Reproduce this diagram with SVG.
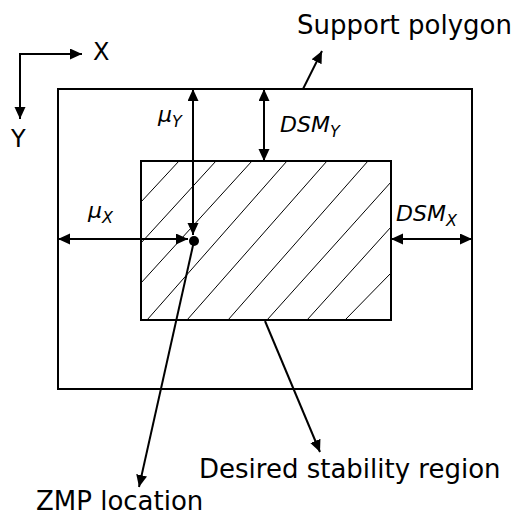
<svg xmlns="http://www.w3.org/2000/svg" width="518" height="516" viewBox="0 0 518 516">
<style>
.box{fill:none;stroke:#000;stroke-width:2}
.hatch{stroke:#000;stroke-width:1;fill:none}
.conn{stroke:#000;stroke-width:2;fill:none}
.lbl{font-family:"DejaVu Sans",sans-serif;font-size:26px;fill:#000}
.ax{font-family:"DejaVu Sans",sans-serif;font-size:24px;fill:#000}
.math{font-family:"DejaVu Sans",sans-serif;font-style:italic;font-size:22px;fill:#000}
.sub{font-size:16px}
</style>
<defs>
<marker id="ah" markerUnits="userSpaceOnUse" markerWidth="14" markerHeight="12" refX="12" refY="5.5" orient="auto-start-reverse" viewBox="0 0 14 12">
<path d="M0,0 L12,5.5 L0,11 z" fill="#000"/>
</marker>
</defs>
<rect width="518" height="516" fill="#fff"/>
<g id="support-polygon">
<rect class="box" x="58" y="89" width="414" height="300"/>
</g>
<g id="desired-stability-region">
<g class="hatch">
<line x1="141" y1="202" x2="179" y2="161"/>
<line x1="141" y1="243" x2="216" y2="161"/>
<line x1="141" y1="283" x2="252" y2="161"/>
<line x1="147" y1="320" x2="287" y2="161"/>
<line x1="187" y1="320" x2="327" y2="161"/>
<line x1="228" y1="320" x2="368" y2="161"/>
<line x1="267" y1="320" x2="391" y2="182"/>
<line x1="307" y1="320" x2="391" y2="227"/>
<line x1="345" y1="320" x2="391" y2="273"/>
</g>
<rect class="box" x="141" y="161" width="250" height="159"/>
</g>
<g id="zmp">
<circle cx="194" cy="241" r="5" fill="#000"/>
</g>
<g id="axes">
<text class="ax" x="93" y="60">X</text>
<text class="ax" x="11" y="147">Y</text>
</g>
<g id="labels">
<text class="lbl" x="297" y="34">Support polygon</text>
<text class="lbl" x="199" y="478">Desired stability region</text>
<text class="lbl" x="36" y="510">ZMP location</text>
<text class="math" x="158" y="122">μ<tspan class="sub" dy="5">Y</tspan></text>
<text class="math" x="88" y="218">μ<tspan class="sub" dy="5">X</tspan></text>
<text class="math" x="280" y="132">DSM<tspan class="sub" dy="5">Y</tspan></text>
<text class="math" x="396" y="221">DSM<tspan class="sub" dy="5">X</tspan></text>
</g>
<g id="connectors">
<polyline class="conn" points="82,54 20,54 20,119" marker-start="url(#ah)" marker-end="url(#ah)"/>
<line class="conn" x1="193" y1="89" x2="193" y2="235" marker-start="url(#ah)" marker-end="url(#ah)"/>
<line class="conn" x1="58" y1="239" x2="188" y2="239" marker-start="url(#ah)" marker-end="url(#ah)"/>
<line class="conn" x1="264" y1="89" x2="264" y2="161" marker-start="url(#ah)" marker-end="url(#ah)"/>
<line class="conn" x1="391" y1="239" x2="472" y2="239" marker-start="url(#ah)" marker-end="url(#ah)"/>
<line class="conn" x1="194" y1="241" x2="139" y2="487" marker-end="url(#ah)"/>
<line class="conn" x1="265" y1="321" x2="320" y2="452" marker-end="url(#ah)"/>
<line class="conn" x1="303" y1="89" x2="322" y2="51" marker-end="url(#ah)"/>
</g>
</svg>
